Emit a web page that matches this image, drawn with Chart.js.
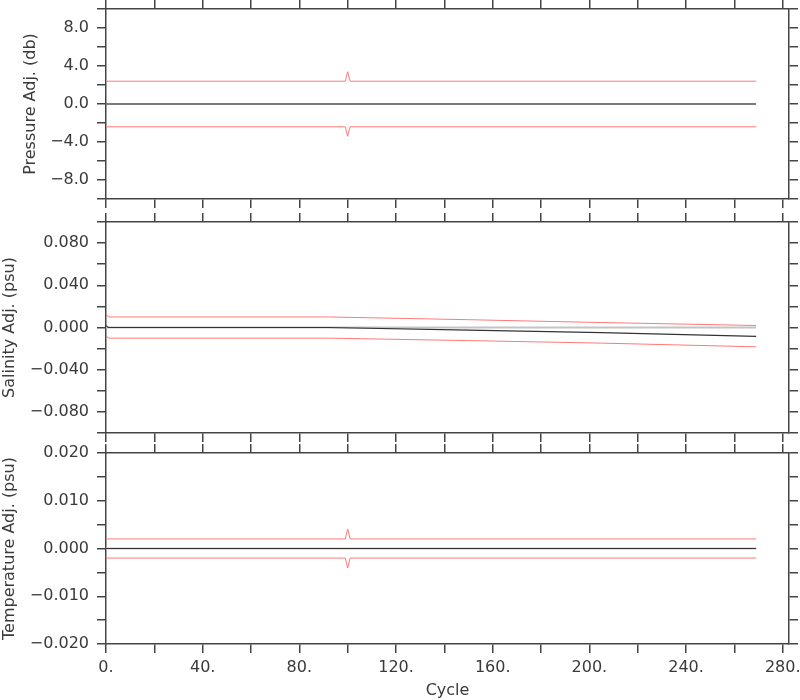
<!DOCTYPE html>
<html>
<head>
<meta charset="utf-8">
<script src="https://cdn.jsdelivr.net/npm/chart.js@4.4.0/dist/chart.umd.min.js"></script>
<style>
  html, body { margin: 0; padding: 0; background: #fff; }
  #wrap { position: relative; width: 800px; height: 700px; }
  canvas { position: absolute; left: 0; }
</style>
</head>
<body>
<div id="wrap">
  <canvas id="pressureChart" width="800" height="210" style="top:0px"></canvas>
  <canvas id="salinityChart" width="800" height="233" style="top:210px"></canvas>
  <canvas id="tempChart" width="800" height="257" style="top:443px"></canvas>
</div>
<script>
// x axis (cycle)
const cycleTicks = [0, 20, 40, 60, 80, 100, 120, 140, 160, 180, 200, 220, 240, 260, 280];
const cycleLabels = [0, 40, 80, 120, 160, 200, 240, 280];
const cycleMax = 282.6;

// zero reference line
const zeroCycles = [0, 269];
const zeroLine = [0, 0];

// pressure
const pressureCycles = [0, 99, 100, 101, 269];
const pressureAdj = [0, 0, 0, 0, 0];
const pressureErr = [2.4, 2.4, 3.4, 2.4, 2.4];
const pressureTicks = [-10, -8, -6, -4, -2, 0, 2, 4, 6, 8, 10];
const pressureLabels = [-8, -4, 0, 4, 8];

// salinity
const salinityCycles = [0, 1, 92, 150, 205, 269];
const salinityAdj = [0.0016, 0, 0, -0.0024, -0.0048, -0.0085];
const salinityUpper = [0.0127, 0.0100, 0.0100, 0.0074, 0.0047, 0.0019];
const salinityLower = [-0.0076, -0.0101, -0.0101, -0.0124, -0.0148, -0.0183];
const salinityTicks = [-0.1, -0.08, -0.06, -0.04, -0.02, 0, 0.02, 0.04, 0.06, 0.08, 0.1];
const salinityLabels = [-0.08, -0.04, 0, 0.04, 0.08];

// temperature
const tempCycles = [0, 99, 100, 101, 269];
const tempAdj = [0, 0, 0, 0, 0];
const tempErr = [0.002, 0.002, 0.0041, 0.002, 0.002];
const tempTicks = [-0.02, -0.015, -0.01, -0.005, 0, 0.005, 0.01, 0.015, 0.02];
const tempLabels = [-0.02, -0.01, 0, 0.01, 0.02];

const AXIS = "#444";
const RED = "rgb(255,120,120)";
const FONT = { family: "'DejaVu Sans', sans-serif", size: 16 };
Chart.defaults.font = FONT;
Chart.defaults.color = "#3a3a3a";

function fmt(v, digits) { return v.toFixed(digits).replace("-", "\u2212"); }
function near(list, v) { return list.some(t => Math.abs(t - v) < 1e-9); }
function pts(xs, ys) { return xs.map((x, i) => ({ x: x, y: ys[i] })); }
function neg(ys) { return ys.map(v => -v); }
function fixedTicks(list) { return s => { s.ticks = list.map(v => ({ value: v })); }; }

function edge(extra) {
  return Object.assign({
    type: "linear",
    grid: { drawOnChartArea: false, drawTicks: true, tickLength: 9, color: AXIS, lineWidth: 1.5 },
    border: { display: true, color: AXIS, width: 1.5 }
  }, extra);
}

function makePanel(id, p) {
  const datasets = [
    { data: pts(p.cycles, p.adj), borderColor: "#333", borderWidth: 1.2 },
    { data: pts(p.cycles, p.upper), borderColor: RED, borderWidth: 1 },
    { data: pts(p.cycles, p.lower), borderColor: RED, borderWidth: 1 },
    { data: pts(zeroCycles, zeroLine), borderColor: "#c4c4c4", borderWidth: 2 }
  ].map(d => Object.assign(d, { pointRadius: 0, tension: 0, fill: false, xAxisID: "x", yAxisID: "y" }));

  new Chart(document.getElementById(id).getContext("2d"), {
    type: "line",
    data: { datasets: datasets },
    options: {
      responsive: false,
      animation: false,
      layout: { padding: 0 },
      plugins: { legend: { display: false }, tooltip: { enabled: false } },
      scales: {
        x: edge({
          position: "bottom", min: 0, max: cycleMax,
          afterBuildTicks: fixedTicks(cycleTicks),
          afterFit: s => { s.height = p.bottom; s.paddingLeft = 0; s.paddingRight = 0; },
          ticks: { display: p.showX, autoSkip: false, maxRotation: 0, padding: 5,
                   callback: v => near(cycleLabels, v) ? v + "." : "" },
          title: { display: p.showX, text: "Cycle", padding: { top: 0, bottom: 0 } }
        }),
        x2: edge({
          position: "top", min: 0, max: cycleMax,
          afterBuildTicks: fixedTicks(cycleTicks),
          afterFit: s => { s.height = p.top; s.paddingLeft = 0; s.paddingRight = 0; },
          ticks: { display: false }
        }),
        y: edge({
          position: "left", min: p.ticks[0], max: p.ticks[p.ticks.length - 1],
          afterBuildTicks: fixedTicks(p.ticks),
          afterFit: s => { s.width = 106; s.paddingTop = 0; s.paddingBottom = 0; },
          ticks: { autoSkip: false, padding: 8,
                   callback: v => near(p.labels, v) ? fmt(v, p.digits) : "" },
          title: { display: true, text: p.title, padding: { top: p.titlePad, bottom: 0 } }
        }),
        y2: edge({
          position: "right", min: p.ticks[0], max: p.ticks[p.ticks.length - 1],
          afterBuildTicks: fixedTicks(p.ticks),
          afterFit: s => { s.width = 11; s.paddingTop = 0; s.paddingBottom = 0; },
          ticks: { display: false }
        })
      }
    }
  });
}

makePanel("pressureChart", {
  cycles: pressureCycles, adj: pressureAdj, upper: pressureErr, lower: neg(pressureErr),
  ticks: pressureTicks, labels: pressureLabels, digits: 1,
  title: "Pressure Adj. (db)", titlePad: 21, top: 9, bottom: 11, showX: false
});

makePanel("salinityChart", {
  cycles: salinityCycles, adj: salinityAdj, upper: salinityUpper, lower: salinityLower,
  ticks: salinityTicks, labels: salinityLabels, digits: 3,
  title: "Salinity Adj. (psu)", titlePad: 0, top: 12, bottom: 10, showX: false
});

makePanel("tempChart", {
  cycles: tempCycles, adj: tempAdj, upper: tempErr, lower: neg(tempErr),
  ticks: tempTicks, labels: tempLabels, digits: 3,
  title: "Temperature Adj. (psu)", titlePad: 0, top: 10, bottom: 56, showX: true
});
</script>
</body>
</html>
